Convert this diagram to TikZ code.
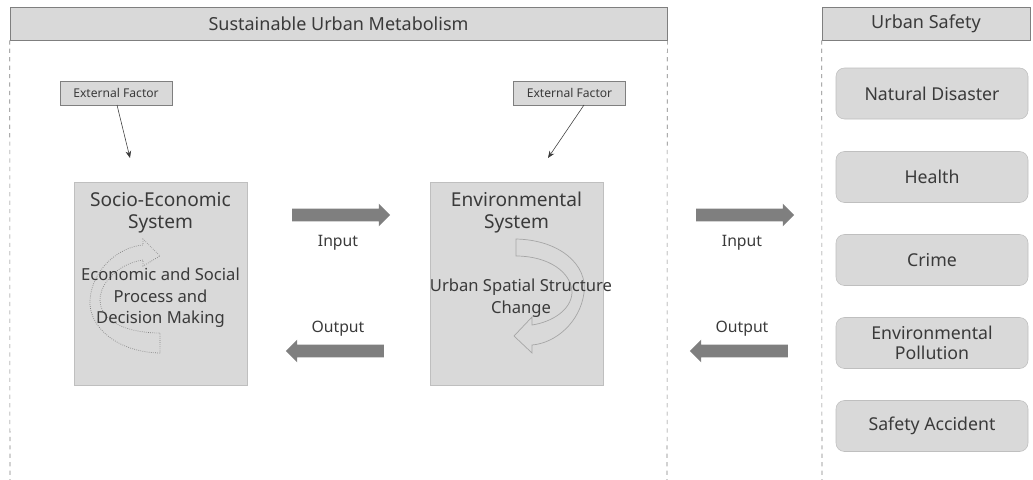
\documentclass[tikz,border=0pt]{standalone}
\usepackage{fontspec}
\setmainfont{Noto Sans}
\usetikzlibrary{arrows.meta,shapes.arrows,positioning}
\definecolor{boxgray}{HTML}{D9D9D9}
\definecolor{edgegray}{HTML}{BFBFBF}
\definecolor{darkgray}{HTML}{7F7F7F}
\definecolor{txtgray}{HTML}{3A3A3A}
\definecolor{swirlgray}{HTML}{A6A6A6}
\newcommand{\pxl}{0.025cm}

\begin{document}
\begin{tikzpicture}[
		x=0.025cm, y=-0.025cm,
		header/.style={draw=darkgray,fill=boxgray,text=txtgray,inner sep=0pt,
			minimum height=33*\pxl,font=\fontsize{12.8}{14}\selectfont},
		extbox/.style={draw=darkgray,fill=boxgray,text=txtgray,inner sep=0pt,
			minimum width=112*\pxl,minimum height=24*\pxl,font=\fontsize{8.6}{9}\selectfont},
		sysbox/.style={draw=edgegray,fill=boxgray,inner sep=0pt,
			minimum width=173*\pxl,minimum height=203*\pxl},
		systitle/.style={text=txtgray,align=center,font=\fontsize{13.6}{15.6}\selectfont},
		sysbody/.style={text=txtgray,align=center,font=\fontsize{11.8}{15.2}\selectfont},
		safebox/.style={draw=edgegray,fill=boxgray,text=txtgray,rounded corners=6pt,
			align=center,inner sep=0pt,minimum width=192*\pxl,minimum height=51*\pxl,
			font=\fontsize{12.6}{14.2}\selectfont},
		flow/.style={single arrow,fill=darkgray,draw=none,inner sep=6*\pxl,
			single arrow head extend=5*\pxl,minimum height=98*\pxl},
		flowlabel/.style={text=txtgray,font=\fontsize{11.2}{12}\selectfont},
		swirl/.style={draw=swirlgray,line width=0.5pt},
		>={Stealth[length=5pt,width=4pt]}]
	\useasboundingbox (0,0) rectangle (1033,480);
	%% headers and dashed frames
	\node (smhead) at (338.5,23.5) [header,minimum width=657*\pxl] {Sustainable Urban Metabolism};
	\node (ushead) at (926,23.5) [header,minimum width=208*\pxl] {Urban Safety};
	\draw[darkgray,dashed] (smhead.south west) -- (10,480);
	\draw[darkgray,dashed] (smhead.south east) -- (667,480);
	\draw[darkgray,dashed] (ushead.south west) -- (822,480);
	%% external factors
	\node (extL) at (116,93) [extbox] {External Factor};
	\node (extR) at (569.5,93) [extbox] {External Factor};
	\coordinate (socioin) at (130,158);
	\coordinate (envin) at (548,158);
	\draw[->,txtgray,thin] (117,105) -- (socioin);
	\draw[->,txtgray,thin] (584,105) -- (envin);
	%% systems
	\node (socio) at (160.5,283.5) [sysbox] {};
	\node (env) at (516.5,283.5) [sysbox] {};
	\draw[swirl,draw=darkgray,densely dotted] (160,353) .. controls (115,352) and (88,325) .. (90,300)
		.. controls (92,270) and (118,247) .. (143,245) -- (143,239) -- (160,256)
		-- (143,266) -- (143,260) .. controls (120,263) and (100,282) .. (100,300)
		.. controls (100,320) and (125,333) .. (160,333) -- cycle;
	\draw[swirl] (516,239) .. controls (560,240) and (588,265) .. (584,293)
		.. controls (580,322) and (556,343) .. (532,345) -- (532,353) -- (514,336)
		-- (532,317) -- (532,325) .. controls (552,322) and (571,310) .. (572,293)
		.. controls (572,272) and (548,256) .. (516,256) -- cycle;
	\node (sociotitle) at (160.5,212.5) [systitle] {Socio-Economic\\System};
	\node (sociobody) at (160.5,298) [sysbody] {Economic and Social\\Process and\\Decision Making};
	\node (envtitle) at (516.5,212.5) [systitle] {Environmental\\System};
	\node (envbody) at (521,298) [sysbody] {Urban Spatial Structure\\Change};
	%% flows
	\node (inA) at (338,215) [flow] {};
	\node (outA) at (338,351) [flow,shape border rotate=180] {};
	\node (inB) at (742,215) [flow] {};
	\node (outB) at (742,351) [flow,shape border rotate=180] {};
	\node (inAlab) at (338,243) [flowlabel] {Input};
	\node (outAlab) at (338,329) [flowlabel] {Output};
	\node (inBlab) at (742,243) [flowlabel] {Input};
	\node (outBlab) at (742,329) [flowlabel] {Output};
	%% urban safety items
	\node (nat) at (932,93.5) [safebox] {Natural Disaster};
	\node (hea) at (932,177) [safebox] {Health};
	\node (cri) at (932,260) [safebox] {Crime};
	\node (pol) at (932,343) [safebox] {Environmental\\Pollution};
	\node (acc) at (932,426) [safebox] {Safety Accident};
\end{tikzpicture}
\end{document}
